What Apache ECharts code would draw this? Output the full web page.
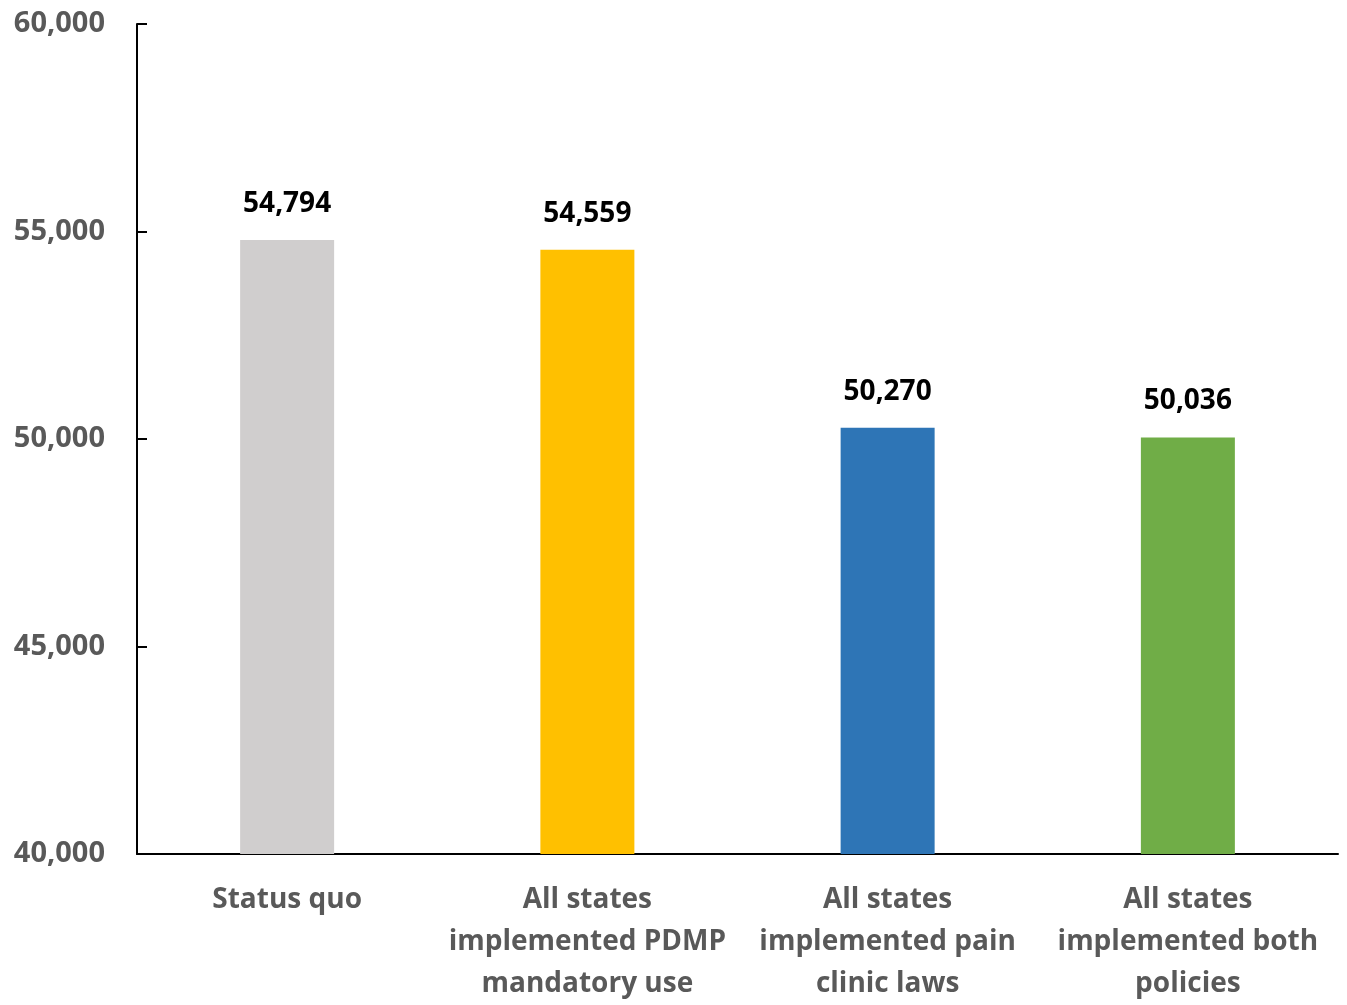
<!DOCTYPE html>
<html>
<head>
<meta charset="utf-8">
<script src="https://cdn.jsdelivr.net/npm/echarts@6/dist/echarts.min.js"></script>
<style>
  html, body { margin: 0; padding: 0; background: #fff; }
  #chart { width: 1347px; height: 1005px; }
</style>
</head>
<body>
<div id="chart"></div>
<script>
// 分类与数值
var categories = [
  'Status quo',
  'All states\nimplemented PDMP\nmandatory use',
  'All states\nimplemented pain\nclinic laws',
  'All states\nimplemented both\npolicies'
];
var values = [54794, 54559, 50270, 50036];
var barColors = ['#D0CECE', '#FFC000', '#2E75B6', '#70AD47'];

var fontFam = '"Open Sans", "DejaVu Sans", sans-serif';

function fmt(v) {
  return String(v).replace(/\B(?=(\d{3})+(?!\d))/g, ',');
}

var container = echarts.init(document.getElementById('chart'));
container.setOption({
  animation: false,
  grid: { left: 137, right: 9, top: 24, bottom: 146 },
  xAxis: {
    type: 'category',
    data: categories,
    axisLine: { lineStyle: { color: '#000', width: 2 } },
    axisTick: { show: false },
    axisLabel: {
      color: '#595959',
      fontFamily: fontFam,
      fontWeight: 'bold',
      fontSize: 28,
      lineHeight: 42,
      margin: 25,
      interval: 0
    }
  },
  yAxis: {
    type: 'value',
    min: 40000,
    max: 60000,
    interval: 5000,
    axisLine: { show: true, lineStyle: { color: '#000', width: 2 } },
    axisTick: { show: true, inside: true, length: 10, lineStyle: { color: '#000', width: 2 } },
    splitLine: { show: false },
    axisLabel: {
      color: '#595959',
      fontFamily: fontFam,
      fontWeight: 'bold',
      fontSize: 29,
      margin: 32,
      formatter: function (v) { return fmt(v); }
    }
  },
  series: [{
    type: 'bar',
    barWidth: 94,
    data: values.map(function (v, i) {
      return { value: v, itemStyle: { color: barColors[i] } };
    }),
    label: {
      show: true,
      position: 'top',
      distance: 22,
      color: '#000',
      fontFamily: fontFam,
      fontWeight: 'bold',
      fontSize: 28,
      formatter: function (p) { return fmt(p.value); }
    }
  }]
});
</script>
</body>
</html>
